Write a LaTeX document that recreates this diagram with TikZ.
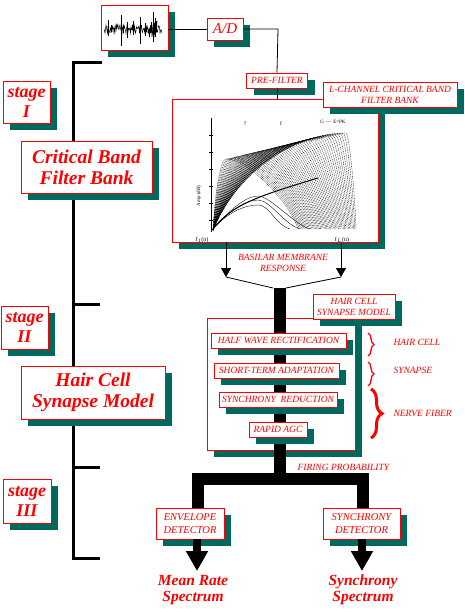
\documentclass[tikz,border=0pt]{standalone}
\usepackage{fontspec}
\setmainfont{Liberation Serif}
\usetikzlibrary{shadows,arrows.meta,decorations.pathreplacing,calc}
\definecolor{shteal}{RGB}{0,105,95}
\begin{document}
\begin{tikzpicture}[x=1pt,y=-1pt,
  shbox/.style={draw=red, line width=0.9pt, fill=white, inner sep=1pt, text=red, align=center,
    drop shadow={shadow xshift=7pt,shadow yshift=-7pt,fill=shteal,opacity=1}},
  lab/.style={font=\fontsize{9.5}{11}\selectfont\itshape},
  detlab/.style={font=\fontsize{10.5}{13}\selectfont\itshape},
  bigtitle/.style={font=\fontsize{19.5}{21}\selectfont\bfseries\itshape},
  stagetitle/.style={font=\fontsize{18}{20}\selectfont\bfseries\itshape},
  outtitle/.style={font=\fontsize{15.5}{16.5}\selectfont\bfseries\itshape, text=red, align=center},
  conn/.style={draw=black, line width=0.8pt},
  bracket/.style={draw=black, line width=3pt},
  bar/.style={draw=black, line width=12pt},
  curve/.style={draw=black, line width=0.35pt, dash pattern=on 0.9pt off 0.8pt},
  rbrace/.style={draw=red, decorate},
]
\useasboundingbox (0,0) rectangle (465,612);
\fill[white] (0,0) rectangle (465,612);

% ---------- left stage bracket ----------
\coordinate (bt) at (102,63);
\coordinate (bt0) at (73,63);
\coordinate (bb0) at (73,558);
\coordinate (bb) at (100,558);
\coordinate (t2) at (73,304);
\coordinate (t2e) at (100,304);
\coordinate (t3) at (73,467);
\coordinate (t3e) at (100,467);
\draw[bracket] (bt) -- (bt0) -- (bb0) -- (bb);
\draw[bracket] (t2) -- (t2e);
\draw[bracket] (t3) -- (t3e);

\node[shbox, stagetitle, minimum width=47pt, minimum height=42pt] (s1) at (26.5,102) {stage\\I};
\node[shbox, bigtitle, minimum width=131pt, minimum height=52pt] (cbfb) at (86.5,167) {Critical Band\\Filter Bank};
\node[shbox, stagetitle, minimum width=47pt, minimum height=43pt] (s2) at (24.5,327.5) {stage\\II};
\node[shbox, bigtitle, minimum width=144pt, minimum height=53pt] (hcsmL) at (93,392.5) {Hair Cell\\Synapse Model};
\node[shbox, stagetitle, minimum width=48pt, minimum height=44pt] (s3) at (27,501) {stage\\III};

% ---------- input chain ----------
\node[shbox, minimum width=67pt, minimum height=45pt] (wave) at (134.5,27.5) {};
\pgfmathsetseed{12}
\draw[line width=0.5pt] (104,29) \foreach \i in {1,...,116}{ -- ({104+\i*0.5},{29+4.5*rand}) };
\draw[line width=0.6pt] (149,29) \foreach \i in {1,...,16}{ -- ({149+\i*0.5},{29+8*rand}) };
\draw[line width=0.7pt] (121,15)--(121,46) (140,17)--(140,44) (153,12)--(153,42)
  (155,18)--(155,37) (127,22)--(127,38) (108,20)--(108,36) (133,21)--(133,35) (145,23)--(145,36);

\node[shbox, minimum width=36pt, minimum height=22pt, font=\fontsize{15}{16}\selectfont\itshape] (ad) at (225,29) {A/D};
\node[shbox, lab, minimum width=61pt, minimum height=15pt] (pre) at (277,80.5) {PRE-FILTER};
\coordinate (adc) at (278,29);
\draw[conn] (wave.east |- ad.west) -- (ad.west);
\draw[conn] (ad.east) -- (adc) -- (pre.north);

% ---------- filter bank plot ----------
\node[shbox, minimum width=206pt, minimum height=143pt] (plot) at (275,170.5) {};
\draw[conn] (pre.south) -- (pre.south |- plot.north);

\draw[line width=0.5pt] (211,118) -- (211,232);
\foreach \yy in {135,152,169,186,203,220} { \draw[line width=0.4pt] (209,\yy) -- (213,\yy); }
\node[font=\fontsize{5}{5}\selectfont, rotate=90] (ylab) at (199,196) {Amp (dB)};
\node[font=\fontsize{5.5}{6}\selectfont] (qm) at (245,124) {?};
\node[font=\fontsize{5.5}{6}\selectfont] (ff) at (281,124) {f};
\node[font=\fontsize{5}{6}\selectfont] (epk) at (333,122) {G \,---\, E=PK};
\node[font=\fontsize{6}{6}\selectfont] (x1) at (202,240) {f$_1$(n)};
\node[font=\fontsize{6}{6}\selectfont] (x2) at (342,240) {f$_L$(n)};

\foreach \k in {0,...,46}{
  \pgfmathsetmacro\t{\k/46}
  \pgfmathsetmacro\px{226+120*\t}
  \pgfmathsetmacro\py{159-26*\t}
  \pgfmathsetmacro\ex{298+58*\t}
  \draw[curve] (213,230) .. controls ({213+0.2*(\px-213)},{230-0.65*(230-\py)}) and ({\px-0.35*(\px-213)},{\py}) .. (\px,\py)
     .. controls ({\px+0.3*(\ex-\px)},{\py}) and ({\ex-0.12*(\ex-\px)},{230-0.4*(230-\py)}) .. (\ex,229);
}
\draw[line width=1pt] (213,229) .. controls (232,205) and (255,197) .. (318,178);
\foreach \e/\h in {290/205,300/200,310/196}{
  \draw[line width=0.35pt] (213,229) .. controls (228,212) and (245,\h) .. (258,\h) .. controls (270,\h) and ({\e-15},225) .. (\e,229);
}

\node[shbox, lab, minimum width=134pt, minimum height=25pt] (lch) at (390,94.5) {L-CHANNEL CRITICAL BAND\\FILTER BANK};

% ---------- basilar membrane response ----------
\coordinate (pl) at (226,242);
\coordinate (pr) at (341,242);
\coordinate (al) at (226,277);
\coordinate (ar) at (341,277);
\coordinate (j1) at (273,288);
\coordinate (j2) at (286,288);
\coordinate (mid) at (279.5,288);
\coordinate (hub) at (279.5,479);
\draw[conn, -{Triangle[width=10pt,length=9pt]}] (pl) -- (al);
\draw[conn, -{Triangle[width=10pt,length=9pt]}] (pr) -- (ar);
\draw[conn] (al) -- (j1);
\draw[conn] (ar) -- (j2);
\node[lab, text=red, align=center] (bmr) at (283,262.5) {BASILAR MEMBRANE\\RESPONSE};

% ---------- hair cell synapse model ----------
\node[shbox, minimum width=148pt, minimum height=132pt] (model) at (281,384) {};
\draw[bar] (mid) -- (hub);
\node[shbox, lab, minimum width=135pt, minimum height=15pt] (hwr) at (278.5,340.5) {HALF WAVE RECTIFICATION};
\node[shbox, lab, minimum width=125pt, minimum height=15pt] (sta) at (276.5,370.5) {SHORT-TERM ADAPTATION};
\node[shbox, lab, minimum width=118pt, minimum height=15pt] (syn) at (278,399.5) {SYNCHRONY\ \ REDUCTION};
\node[shbox, lab, minimum width=58pt, minimum height=15pt] (agc) at (278,429.5) {RAPID AGC};
\node[shbox, lab, minimum width=82pt, minimum height=25pt] (hcsmS) at (354,306.5) {HAIR CELL\\SYNAPSE MODEL};

% braces and annotations
\draw[rbrace, line width=1.3pt, decoration={brace,amplitude=6pt}] (368,333) -- (368,356);
\draw[rbrace, line width=1.3pt, decoration={brace,amplitude=6pt}] (368,362) -- (368,386);
\draw[rbrace, line width=3pt, decoration={brace,amplitude=11pt}] (371,389) -- (371,438);
\node[lab, text=red, anchor=west] (ahc) at (390,342) {HAIR CELL};
\node[lab, text=red, anchor=west] (asy) at (390,370) {SYNAPSE};
\node[lab, text=red, anchor=west] (anf) at (390,413) {NERVE FIBER};

% ---------- stage III ----------
\node[lab, text=red, anchor=west] (fp) at (294,467) {FIRING PROBABILITY};
\node[shbox, detlab, minimum width=68pt, minimum height=31pt] (env) at (190,523.5) {ENVELOPE\\DETECTOR};
\node[shbox, detlab, minimum width=77pt, minimum height=31pt] (sd) at (361.5,523.5) {SYNCHRONY\\DETECTOR};
\draw[bar] ([xshift=8pt]env.north) |- (hub) -| ([xshift=1pt]sd.north);

\node[outtitle] (mrs) at (193,590) {Mean Rate\\Spectrum};
\node[outtitle] (ss) at (363,590) {Synchrony\\Spectrum};
\coordinate (tl) at (197,571);
\coordinate (tr) at (362,571);
\draw[line width=8pt, -{Triangle[width=21pt,length=20pt]}] (env.south -| tl) -- (tl);
\draw[line width=8pt, -{Triangle[width=21pt,length=20pt]}] (sd.south -| tr) -- (tr);
\end{tikzpicture}
\end{document}
